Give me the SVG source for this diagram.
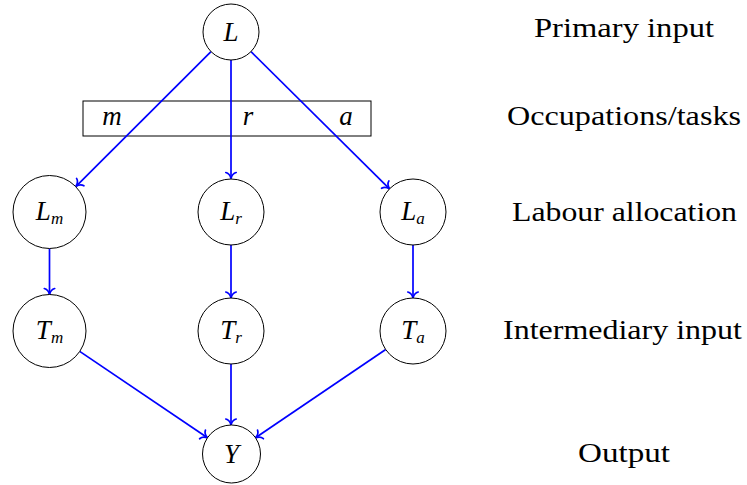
<svg xmlns="http://www.w3.org/2000/svg" width="747" height="485" viewBox="0 0 747 485">
<style>
.node circle{fill:#fff;stroke:#000;stroke-width:1}
.mi{font-style:italic;font-size:27px;fill:#000;text-anchor:middle}
.sub{font-size:17px}
.lbl{font-size:27px;fill:#000;text-anchor:middle}
.edge{stroke:#0000ff;stroke-width:1.7;fill:none;marker-end:url(#to)}
</style>
<defs>
<marker id="to" markerUnits="userSpaceOnUse" orient="auto" markerWidth="14" markerHeight="14" viewBox="-8 -7 10 14" refX="0" refY="0">
<path d="M -6,-5.2 C -5.2,-2 -2,-0.5 0,0 C -2,0.5 -5.2,2 -6,5.2" fill="none" stroke="#0000ff" stroke-width="1.7" stroke-linecap="round"/>
</marker>
</defs>
<rect width="747" height="485" fill="#fff"/>
<g font-family="Liberation Serif, DejaVu Serif, serif">
<g id="box">
<rect x="83" y="101" width="288" height="35" fill="none" stroke="#000" stroke-width="1"/>
<text class="mi" x="112" y="125">m</text>
<text class="mi" x="248" y="125">r</text>
<text class="mi" x="346" y="125">a</text>
</g>
<g id="connectors">
<line class="edge" x1="211" y1="51.7" x2="76" y2="186.3"/>
<line class="edge" x1="231" y1="60" x2="231" y2="178.5"/>
<line class="edge" x1="251" y1="51.7" x2="389.5" y2="188.8"/>
<line class="edge" x1="49.5" y1="248.5" x2="49.5" y2="294.5"/>
<line class="edge" x1="231" y1="245" x2="231" y2="298"/>
<line class="edge" x1="413" y1="245" x2="413" y2="298"/>
<line class="edge" x1="79.7" y1="351.4" x2="207.5" y2="437.8"/>
<line class="edge" x1="231" y1="364" x2="231" y2="425"/>
<line class="edge" x1="385.7" y1="349.5" x2="255.5" y2="437.8"/>
</g>
<g id="node-L" class="node"><circle cx="231" cy="32" r="28"/><text class="mi" x="231" y="41">L</text></g>
<g id="node-Lm" class="node"><circle cx="49.5" cy="212" r="36.5"/><text class="mi" x="49.5" y="220">L<tspan class="sub" dy="4">m</tspan></text></g>
<g id="node-Lr" class="node"><circle cx="231" cy="212" r="33"/><text class="mi" x="231" y="220">L<tspan class="sub" dy="4">r</tspan></text></g>
<g id="node-La" class="node"><circle cx="413" cy="212" r="33"/><text class="mi" x="413" y="220">L<tspan class="sub" dy="4">a</tspan></text></g>
<g id="node-Tm" class="node"><circle cx="49.5" cy="331" r="36.5"/><text class="mi" x="49.5" y="339">T<tspan class="sub" dy="4">m</tspan></text></g>
<g id="node-Tr" class="node"><circle cx="231" cy="331" r="33"/><text class="mi" x="231" y="339">T<tspan class="sub" dy="4">r</tspan></text></g>
<g id="node-Ta" class="node"><circle cx="413" cy="331" r="33"/><text class="mi" x="413" y="339">T<tspan class="sub" dy="4">a</tspan></text></g>
<g id="node-Y" class="node"><circle cx="231.5" cy="454" r="29"/><text class="mi" x="231.5" y="463">Y</text></g>
<g id="labels">
<text class="lbl" x="624" y="37" textLength="180" lengthAdjust="spacingAndGlyphs">Primary input</text>
<text class="lbl" x="624" y="125" textLength="234" lengthAdjust="spacingAndGlyphs">Occupations/tasks</text>
<text class="lbl" x="624.5" y="221" textLength="225" lengthAdjust="spacingAndGlyphs">Labour allocation</text>
<text class="lbl" x="622.5" y="339" textLength="239" lengthAdjust="spacingAndGlyphs">Intermediary input</text>
<text class="lbl" x="624" y="461.5" textLength="92" lengthAdjust="spacingAndGlyphs">Output</text>
</g>
</g>
</svg>
